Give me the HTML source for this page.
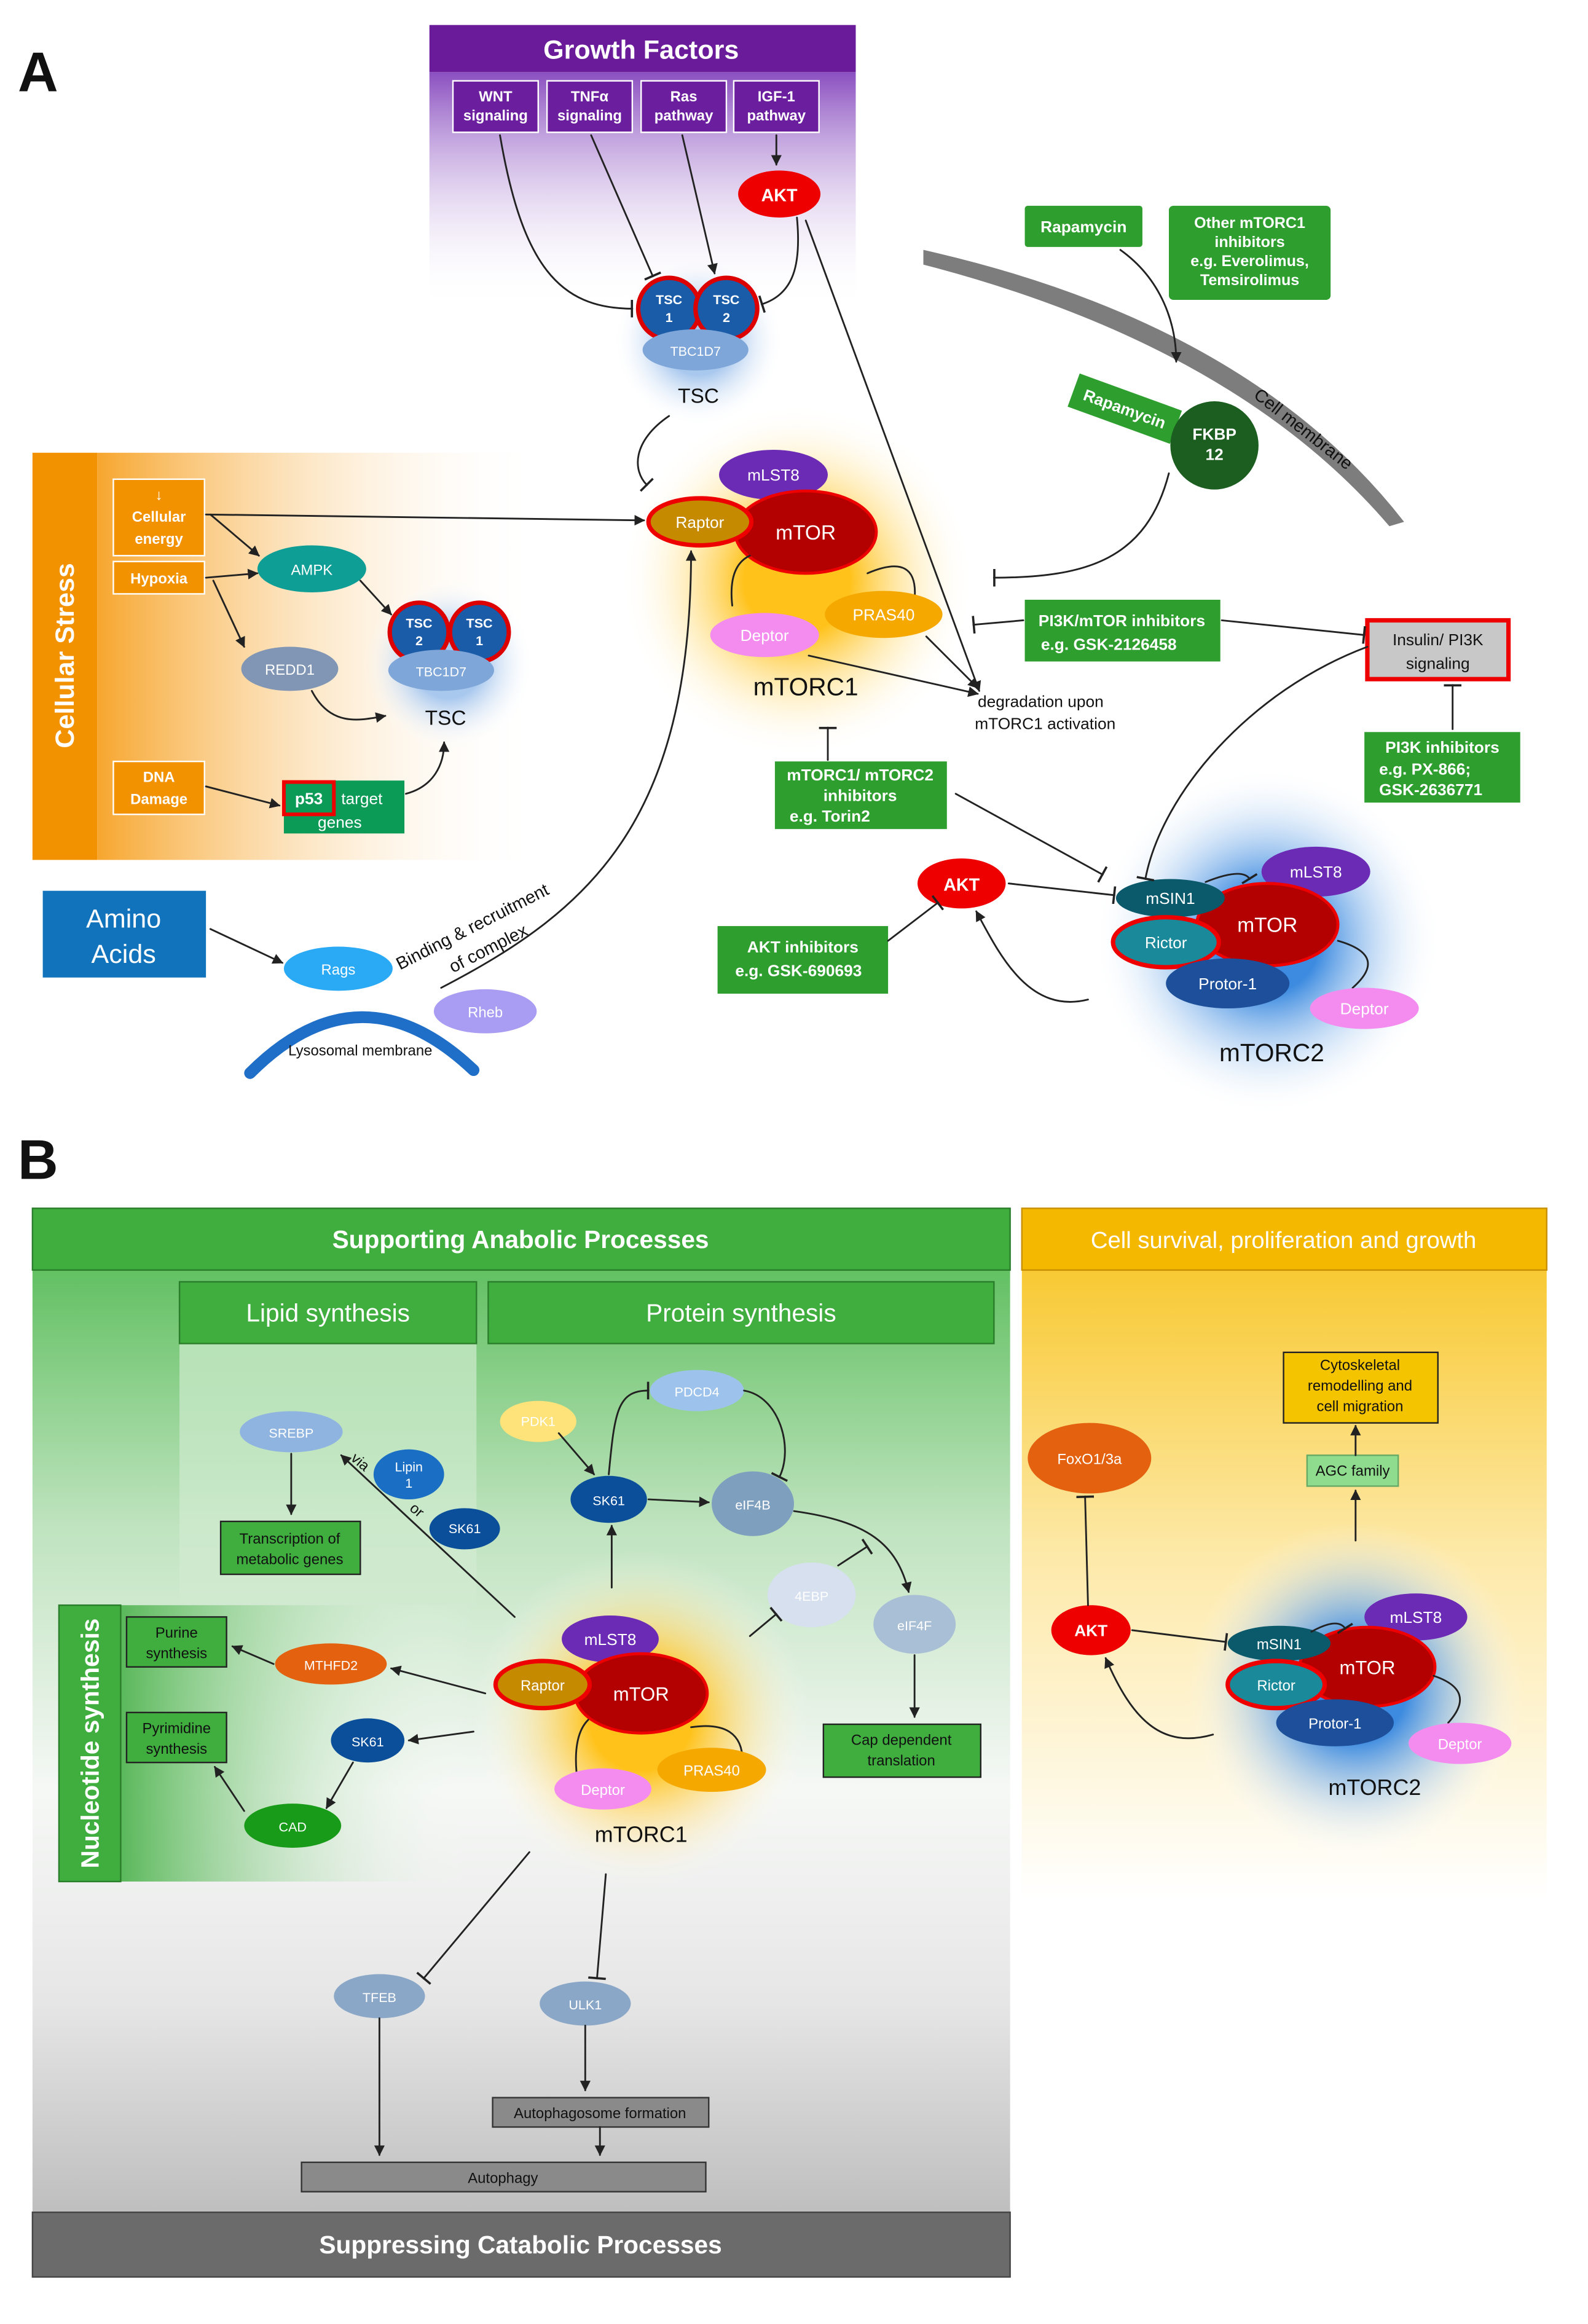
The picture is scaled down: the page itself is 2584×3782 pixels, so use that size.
<!DOCTYPE html>
<html><head><meta charset="utf-8"><style>
html,body{margin:0;padding:0;background:#fff}
svg{display:block}
text{font-family:"Liberation Sans",sans-serif}
.w{fill:#fff;font-weight:bold}
.b{fill:#111}
</style></head><body>
<svg width="2584" height="3782" viewBox="0 0 1080 1581" xmlns="http://www.w3.org/2000/svg">
<defs>
<marker id="ar" viewBox="0 0 10 10" refX="9" refY="5" markerWidth="6" markerHeight="6" orient="auto"><path d="M0,0L10,5L0,10z" fill="#222"/></marker>
<marker id="in" viewBox="0 0 4 12" refX="2" refY="6" markerWidth="4" markerHeight="12" markerUnits="userSpaceOnUse" orient="auto"><rect x="1" y="0" width="1.5" height="12" fill="#222"/></marker>
<linearGradient id="pg" x1="0" y1="0" x2="0" y2="1"><stop offset="0" stop-color="#8a4fc0"/><stop offset="1" stop-color="#fff" stop-opacity="0"/></linearGradient>
<linearGradient id="og" x1="0" y1="0" x2="1" y2="0"><stop offset="0" stop-color="#f7a62e"/><stop offset="1" stop-color="#fff" stop-opacity="0"/></linearGradient>
<linearGradient id="gg" x1="0" y1="0" x2="0" y2="1"><stop offset="0" stop-color="#4cb84c"/><stop offset="0.3" stop-color="#bfe3bf"/><stop offset="0.55" stop-color="#f6f8f6"/><stop offset="0.75" stop-color="#e6e6e6"/><stop offset="1" stop-color="#b4b4b4"/></linearGradient>
<linearGradient id="lg" x1="0" y1="0" x2="0" y2="1"><stop offset="0" stop-color="#b8e2b8"/><stop offset="1" stop-color="#fff" stop-opacity="0"/></linearGradient>
<linearGradient id="ng" x1="0" y1="0" x2="1" y2="0"><stop offset="0" stop-color="#5ab85a"/><stop offset="1" stop-color="#fff" stop-opacity="0"/></linearGradient>
<linearGradient id="yg" x1="0" y1="0" x2="0" y2="1"><stop offset="0" stop-color="#f7c21a"/><stop offset="0.5" stop-color="#fde9a8"/><stop offset="1" stop-color="#fff"/></linearGradient>
<radialGradient id="yc"><stop offset="0.3" stop-color="#ffc21a"/><stop offset="1" stop-color="#fff" stop-opacity="0"/></radialGradient>
<radialGradient id="bc"><stop offset="0.3" stop-color="#3d8be0"/><stop offset="1" stop-color="#fff" stop-opacity="0"/></radialGradient>
<radialGradient id="tc"><stop offset="0.4" stop-color="#a9c8ee"/><stop offset="1" stop-color="#fff" stop-opacity="0"/></radialGradient>
</defs>
<g stroke-linecap="round">
<text x="12" y="62" font-size="38" font-weight="bold" class="b">A</text>
<rect x="292" y="49" width="290" height="160" fill="url(#pg)"/>
<rect x="292" y="17" width="290" height="32" fill="#6a1b9a"/>
<text x="436" y="40" text-anchor="middle" font-size="18" class="w">Growth Factors</text>
<g font-size="10" class="w" text-anchor="middle">
<rect x="308" y="55" width="58" height="35" fill="#6b1f9e" stroke="#fff"/><text x="337" y="69">WNT</text><text x="337" y="82">signaling</text>
<rect x="372" y="55" width="58" height="35" fill="#6b1f9e" stroke="#fff"/><text x="401" y="69">TNFα</text><text x="401" y="82">signaling</text>
<rect x="436" y="55" width="58" height="35" fill="#6b1f9e" stroke="#fff"/><text x="465" y="69">Ras</text><text x="465" y="82">pathway</text>
<rect x="499" y="55" width="58" height="35" fill="#6b1f9e" stroke="#fff"/><text x="528" y="69">IGF-1</text><text x="528" y="82">pathway</text>
</g>
<ellipse cx="530" cy="132" rx="28" ry="16" fill="#e00"/><text x="530" y="137" text-anchor="middle" font-size="12" class="w">AKT</text>
<circle cx="475" cy="232" r="58" fill="url(#tc)"/>
<circle cx="455" cy="210" r="21" fill="#1a5ca8" stroke="#d00" stroke-width="3"/>
<circle cx="494" cy="210" r="21" fill="#1a5ca8" stroke="#d00" stroke-width="3"/>
<text x="455" y="207" text-anchor="middle" font-size="9" class="w">TSC</text><text x="455" y="219" text-anchor="middle" font-size="9" class="w">1</text>
<text x="494" y="207" text-anchor="middle" font-size="9" class="w">TSC</text><text x="494" y="219" text-anchor="middle" font-size="9" class="w">2</text>
<ellipse cx="473" cy="238" rx="36" ry="14" fill="#7ea6d8"/><text x="473" y="242" text-anchor="middle" font-size="9" fill="#fff">TBC1D7</text>
<text x="475" y="274" text-anchor="middle" font-size="14" class="b">TSC</text>
<path d="M628,170 Q850,220 955,355 L945,358 Q840,235 628,180z" fill="#7d7d7d"/>
<text x="852" y="270" font-size="12" class="b" transform="rotate(38 852 270)">Cell membrane</text>
<rect x="697" y="140" width="80" height="28" fill="#2e9e2e" rx="2"/><text x="737" y="158" text-anchor="middle" font-size="11" class="w">Rapamycin</text>
<rect x="795" y="140" width="110" height="64" fill="#2e9e2e" rx="3"/>
<g font-size="10.5" class="w" text-anchor="middle"><text x="850" y="155">Other mTORC1</text><text x="850" y="168">inhibitors</text><text x="850" y="181">e.g. Everolimus,</text><text x="850" y="194">Temsirolimus</text></g>
<g transform="rotate(20 765 278)"><rect x="728" y="266" width="74" height="24" fill="#2e9e2e"/><text x="765" y="282" text-anchor="middle" font-size="11" class="w">Rapamycin</text></g>
<circle cx="826" cy="303" r="30" fill="#1b5e20"/><text x="826" y="299" text-anchor="middle" font-size="11" class="w">FKBP</text><text x="826" y="313" text-anchor="middle" font-size="11" class="w">12</text>
<rect x="66" y="308" width="300" height="277" fill="url(#og)"/>
<rect x="22" y="308" width="44" height="277" fill="#f39200"/>
<text transform="translate(50 446) rotate(-90)" text-anchor="middle" font-size="18" class="w">Cellular Stress</text>
<g font-size="10" class="w" text-anchor="middle">
<rect x="77" y="326" width="62" height="52" fill="#f39200" stroke="#fff"/><text x="108" y="340">↓</text><text x="108" y="355">Cellular</text><text x="108" y="370">energy</text>
<rect x="77" y="382" width="62" height="22" fill="#f39200" stroke="#fff"/><text x="108" y="397">Hypoxia</text>
<rect x="77" y="518" width="62" height="36" fill="#f39200" stroke="#fff"/><text x="108" y="532">DNA</text><text x="108" y="547">Damage</text>
</g>
<ellipse cx="212" cy="387" rx="37" ry="16" fill="#0f9e96"/><text x="212" y="391" text-anchor="middle" font-size="10" fill="#fff">AMPK</text>
<ellipse cx="197" cy="455" rx="33" ry="15" fill="#8096b4"/><text x="197" y="459" text-anchor="middle" font-size="10" fill="#fff">REDD1</text>
<circle cx="305" cy="452" r="58" fill="url(#tc)"/>
<circle cx="285" cy="430" r="20" fill="#1a5ca8" stroke="#d00" stroke-width="3"/>
<circle cx="326" cy="430" r="20" fill="#1a5ca8" stroke="#d00" stroke-width="3"/>
<text x="285" y="427" text-anchor="middle" font-size="9" class="w">TSC</text><text x="285" y="439" text-anchor="middle" font-size="9" class="w">2</text>
<text x="326" y="427" text-anchor="middle" font-size="9" class="w">TSC</text><text x="326" y="439" text-anchor="middle" font-size="9" class="w">1</text>
<ellipse cx="300" cy="456" rx="36" ry="14" fill="#7ea6d8"/><text x="300" y="460" text-anchor="middle" font-size="9" fill="#fff">TBC1D7</text>
<text x="303" y="493" text-anchor="middle" font-size="14" class="b">TSC</text>
<rect x="193" y="531" width="82" height="36" fill="#0c9b57"/>
<rect x="193" y="532" width="34" height="22" fill="#0c9b57" stroke="#e00" stroke-width="2.5"/>
<text x="210" y="547" text-anchor="middle" font-size="11" class="w">p53</text><text x="232" y="547" font-size="11" fill="#fff">target</text><text x="216" y="563" font-size="11" fill="#fff">genes</text>
<rect x="29" y="606" width="111" height="59" fill="#1273bd"/>
<text x="84" y="631" text-anchor="middle" font-size="18" fill="#fff">Amino</text><text x="84" y="655" text-anchor="middle" font-size="18" fill="#fff">Acids</text>
<ellipse cx="230" cy="659" rx="37" ry="15" fill="#2aa9f5"/><text x="230" y="663" text-anchor="middle" font-size="10" fill="#fff">Rags</text>
<ellipse cx="330" cy="688" rx="35" ry="15" fill="#a99cf3"/><text x="330" y="692" text-anchor="middle" font-size="10" fill="#fff">Rheb</text>
<path d="M170,730 Q245,655 322,728" fill="none" stroke="#1f6fc8" stroke-width="8"/>
<text x="245" y="718" text-anchor="middle" font-size="10" class="b">Lysosomal membrane</text>
<text transform="translate(272 660) rotate(-27)" font-size="12" class="b">Binding &amp; recruitment</text>
<text transform="translate(308 662) rotate(-27)" font-size="12" class="b">of complex</text>
<circle cx="542" cy="395" r="120" fill="url(#yc)"/>
<ellipse cx="526" cy="323" rx="37" ry="17" fill="#6c2bb5"/><text x="526" y="327" text-anchor="middle" font-size="11" fill="#fff">mLST8</text>
<ellipse cx="548" cy="362" rx="48" ry="28" fill="#b30000" stroke="#e00" stroke-width="2"/><text x="548" y="367" text-anchor="middle" font-size="14" fill="#fff">mTOR</text>
<ellipse cx="476" cy="355" rx="35" ry="16" fill="#c58a00" stroke="#e00" stroke-width="3"/><text x="476" y="359" text-anchor="middle" font-size="11" fill="#fff">Raptor</text>
<path d="M498,412 Q495,385 510,378 M590,390 Q625,375 622,408" fill="none" stroke="#222" stroke-width="1.2"/>
<ellipse cx="520" cy="432" rx="37" ry="15" fill="#f48cf0"/><text x="520" y="436" text-anchor="middle" font-size="11" fill="#fff">Deptor</text>
<ellipse cx="601" cy="418" rx="40" ry="16" fill="#f5a800"/><text x="601" y="422" text-anchor="middle" font-size="11" fill="#fff">PRAS40</text>
<text x="548" y="473" text-anchor="middle" font-size="17" class="b">mTORC1</text>
<text x="665" y="481" font-size="11" class="b">degradation upon</text><text x="663" y="496" font-size="11" class="b">mTORC1 activation</text>
<rect x="697" y="408" width="133" height="42" fill="#2e9e2e"/><text x="763" y="426" text-anchor="middle" font-size="11" class="w">PI3K/mTOR inhibitors</text><text x="708" y="442" font-size="11" class="w">e.g. GSK-2126458</text>
<rect x="930" y="422" width="96" height="40" fill="#c8c8c8" stroke="#e00" stroke-width="3"/><text x="978" y="439" text-anchor="middle" font-size="11" class="b">Insulin/ PI3K</text><text x="978" y="455" text-anchor="middle" font-size="11" class="b">signaling</text>
<rect x="928" y="498" width="106" height="48" fill="#2e9e2e"/><text x="981" y="512" text-anchor="middle" font-size="11" class="w">PI3K inhibitors</text><text x="938" y="527" font-size="11" class="w">e.g. PX-866;</text><text x="938" y="541" font-size="11" class="w">GSK-2636771</text>
<rect x="527" y="518" width="117" height="46" fill="#2e9e2e"/><text x="585" y="531" text-anchor="middle" font-size="11" class="w">mTORC1/ mTORC2</text><text x="585" y="545" text-anchor="middle" font-size="11" class="w">inhibitors</text><text x="537" y="559" font-size="11" class="w">e.g. Torin2</text>
<rect x="488" y="630" width="116" height="46" fill="#2e9e2e"/><text x="546" y="648" text-anchor="middle" font-size="11" class="w">AKT inhibitors</text><text x="500" y="664" font-size="11" class="w">e.g. GSK-690693</text>
<ellipse cx="654" cy="601" rx="30" ry="17" fill="#e00"/><text x="654" y="606" text-anchor="middle" font-size="12" class="w">AKT</text>
<circle cx="862" cy="640" r="118" fill="url(#bc)"/>
<ellipse cx="895" cy="593" rx="37" ry="17" fill="#6c2bb5"/><text x="895" y="597" text-anchor="middle" font-size="11" fill="#fff">mLST8</text>
<ellipse cx="862" cy="629" rx="48" ry="28" fill="#b30000" stroke="#e00" stroke-width="2"/><text x="862" y="634" text-anchor="middle" font-size="14" fill="#fff">mTOR</text>
<ellipse cx="796" cy="611" rx="37" ry="13" fill="#0b5a6b"/><text x="796" y="615" text-anchor="middle" font-size="11" fill="#fff">mSIN1</text>
<ellipse cx="793" cy="641" rx="36" ry="17" fill="#1a8a9a" stroke="#e00" stroke-width="3"/><text x="793" y="645" text-anchor="middle" font-size="11" fill="#fff">Rictor</text>
<ellipse cx="835" cy="669" rx="42" ry="17" fill="#1d4f9a"/><text x="835" y="673" text-anchor="middle" font-size="11" fill="#fff">Protor-1</text>
<path d="M920,672 Q945,650 910,640" fill="none" stroke="#222" stroke-width="1.2"/>
<ellipse cx="928" cy="686" rx="37" ry="14" fill="#f48cf0"/><text x="928" y="690" text-anchor="middle" font-size="11" fill="#fff">Deptor</text>
<text x="865" y="722" text-anchor="middle" font-size="17" class="b">mTORC2</text>
<g fill="none" stroke="#222" stroke-width="1.2">
<path d="M340,92 C355,180 380,210 430,210" marker-end="url(#in)"/>
<path d="M402,92 L444,188" marker-end="url(#in)"/>
<path d="M464,92 L486,186" marker-end="url(#ar)"/>
<path d="M528,92 L528,112" marker-end="url(#ar)"/>
<path d="M542,148 C545,180 540,200 518,207" marker-end="url(#in)"/>
<path d="M548,150 L666,470" marker-end="url(#ar)"/>
<path d="M455,283 C430,300 430,320 440,330" marker-end="url(#in)"/>
<path d="M140,350 L438,354" marker-end="url(#ar)"/>
<path d="M143,350 L176,378" marker-end="url(#ar)"/>
<path d="M140,393 L175,390" marker-end="url(#ar)"/>
<path d="M145,395 L166,440" marker-end="url(#ar)"/>
<path d="M245,395 L266,418" marker-end="url(#ar)"/>
<path d="M212,470 C225,495 245,490 262,487" marker-end="url(#ar)"/>
<path d="M140,535 L190,548" marker-end="url(#ar)"/>
<path d="M276,540 C295,535 302,520 302,505" marker-end="url(#ar)"/>
<path d="M143,632 L192,655" marker-end="url(#ar)"/>
<path d="M300,672 C400,620 470,560 470,375" marker-end="url(#ar)"/>
<path d="M762,170 C790,190 800,220 800,246" marker-end="url(#ar)"/>
<path d="M795,322 C780,380 740,393 676,393" marker-end="url(#in)"/>
<path d="M696,422 L662,425" marker-end="url(#in)"/>
<path d="M831,422 L928,432" marker-end="url(#in)"/>
<path d="M988,496 L988,466" marker-end="url(#in)"/>
<path d="M930,440 C850,470 790,540 779,598" marker-end="url(#in)"/>
<path d="M563,517 L563,495" marker-end="url(#in)"/>
<path d="M650,540 L750,595" marker-end="url(#in)"/>
<path d="M604,640 L638,614" marker-end="url(#in)"/>
<path d="M686,601 L758,609" marker-end="url(#in)"/>
<path d="M740,680 C700,690 680,650 664,620" marker-end="url(#ar)"/>
<path d="M630,433 L665,468" marker-end="url(#ar)"/>
<path d="M550,446 L665,472" marker-end="url(#ar)"/>
<path d="M820,600 Q845,590 850,598" marker-end="url(#in)"/>
</g>
<text x="12" y="802" font-size="38" font-weight="bold" class="b">B</text>
<rect x="22" y="822" width="665" height="720" fill="url(#gg)"/>
<rect x="122" y="914" width="202" height="180" fill="url(#lg)"/>
<rect x="82" y="1092" width="240" height="188" fill="url(#ng)"/>
<rect x="22" y="822" width="665" height="42" fill="#3fae3f" stroke="#2a7d2a"/>
<text x="354" y="849" text-anchor="middle" font-size="17" class="w">Supporting Anabolic Processes</text>
<rect x="122" y="872" width="202" height="42" fill="#3fae3f" stroke="#2a7d2a"/><text x="223" y="899" text-anchor="middle" font-size="17" fill="#fff">Lipid synthesis</text>
<rect x="332" y="872" width="344" height="42" fill="#3fae3f" stroke="#2a7d2a"/><text x="504" y="899" text-anchor="middle" font-size="17" fill="#fff">Protein synthesis</text>
<rect x="22" y="1505" width="665" height="44" fill="#6b6b6b" stroke="#444"/><text x="354" y="1533" text-anchor="middle" font-size="17" class="w">Suppressing Catabolic Processes</text>
<rect x="40" y="1092" width="42" height="188" fill="#3fae3f" stroke="#2a7d2a"/>
<text transform="translate(67 1186) rotate(-90)" text-anchor="middle" font-size="17" class="w">Nucleotide synthesis</text>
<rect x="695" y="822" width="357" height="470" fill="url(#yg)"/>
<rect x="695" y="822" width="357" height="42" fill="#f5b800" stroke="#c89000"/>
<text x="873" y="849" text-anchor="middle" font-size="16" fill="#fff">Cell survival, proliferation and growth</text>
<ellipse cx="198" cy="974" rx="35" ry="14" fill="#8fb4e0"/><text x="198" y="978" text-anchor="middle" font-size="9" fill="#fff">SREBP</text>
<ellipse cx="278" cy="1003" rx="24" ry="17" fill="#1a6fc4"/><text x="278" y="1001" text-anchor="middle" font-size="9" fill="#fff">Lipin</text><text x="278" y="1012" text-anchor="middle" font-size="9" fill="#fff">1</text>
<ellipse cx="316" cy="1040" rx="24" ry="14" fill="#0b4f9a"/><text x="316" y="1043" text-anchor="middle" font-size="9" fill="#fff">SK61</text>
<rect x="150" y="1035" width="95" height="36" fill="#3fae3f" stroke="#222"/><text x="197" y="1050" text-anchor="middle" font-size="10" class="b">Transcription of</text><text x="197" y="1064" text-anchor="middle" font-size="10" class="b">metabolic genes</text>
<text transform="translate(238 993) rotate(40)" font-size="10" class="b">via</text>
<text transform="translate(278 1027) rotate(40)" font-size="10" class="b">or</text>
<ellipse cx="366" cy="967" rx="26" ry="14" fill="#fde37a"/><text x="366" y="970" text-anchor="middle" font-size="9" fill="#fff">PDK1</text>
<ellipse cx="474" cy="946" rx="32" ry="14" fill="#9dc3ec"/><text x="474" y="950" text-anchor="middle" font-size="9" fill="#fff">PDCD4</text>
<ellipse cx="414" cy="1020" rx="26" ry="16" fill="#0b4f9a"/><text x="414" y="1024" text-anchor="middle" font-size="9" fill="#fff">SK61</text>
<ellipse cx="512" cy="1023" rx="28" ry="22" fill="#7f9fbf"/><text x="512" y="1027" text-anchor="middle" font-size="9" fill="#fff">eIF4B</text>
<ellipse cx="552" cy="1085" rx="30" ry="22" fill="#d6e0ef"/><text x="552" y="1089" text-anchor="middle" font-size="9" fill="#fff">4EBP</text>
<ellipse cx="622" cy="1105" rx="28" ry="20" fill="#a9bfd6"/><text x="622" y="1109" text-anchor="middle" font-size="9" fill="#fff">eIF4F</text>
<rect x="560" y="1173" width="107" height="36" fill="#3fae3f" stroke="#222"/><text x="613" y="1187" text-anchor="middle" font-size="10" class="b">Cap dependent</text><text x="613" y="1201" text-anchor="middle" font-size="10" class="b">translation</text>
<rect x="86" y="1100" width="68" height="34" fill="#3fae3f" stroke="#222"/><text x="120" y="1114" text-anchor="middle" font-size="10" class="b">Purine</text><text x="120" y="1128" text-anchor="middle" font-size="10" class="b">synthesis</text>
<rect x="86" y="1165" width="68" height="34" fill="#3fae3f" stroke="#222"/><text x="120" y="1179" text-anchor="middle" font-size="10" class="b">Pyrimidine</text><text x="120" y="1193" text-anchor="middle" font-size="10" class="b">synthesis</text>
<ellipse cx="225" cy="1132" rx="38" ry="14" fill="#e3610f"/><text x="225" y="1136" text-anchor="middle" font-size="9" fill="#fff">MTHFD2</text>
<ellipse cx="250" cy="1184" rx="25" ry="15" fill="#0b4f9a"/><text x="250" y="1188" text-anchor="middle" font-size="9" fill="#fff">SK61</text>
<ellipse cx="199" cy="1242" rx="33" ry="15" fill="#189b18"/><text x="199" y="1246" text-anchor="middle" font-size="9" fill="#fff">CAD</text>
<circle cx="436" cy="1170" r="115" fill="url(#yc)"/>
<ellipse cx="415" cy="1115" rx="33" ry="16" fill="#6c2bb5"/><text x="415" y="1119" text-anchor="middle" font-size="11" fill="#fff">mLST8</text>
<ellipse cx="436" cy="1152" rx="45" ry="27" fill="#b30000" stroke="#e00" stroke-width="2"/><text x="436" y="1157" text-anchor="middle" font-size="13" fill="#fff">mTOR</text>
<ellipse cx="369" cy="1146" rx="32" ry="16" fill="#c58a00" stroke="#e00" stroke-width="3"/><text x="369" y="1150" text-anchor="middle" font-size="10" fill="#fff">Raptor</text>
<path d="M392,1205 Q390,1180 400,1170 M470,1175 Q505,1170 505,1198" fill="none" stroke="#222" stroke-width="1.2"/>
<ellipse cx="410" cy="1217" rx="33" ry="14" fill="#f48cf0"/><text x="410" y="1221" text-anchor="middle" font-size="10" fill="#fff">Deptor</text>
<ellipse cx="484" cy="1204" rx="37" ry="15" fill="#f5a800"/><text x="484" y="1208" text-anchor="middle" font-size="10" fill="#fff">PRAS40</text>
<text x="436" y="1253" text-anchor="middle" font-size="15" class="b">mTORC1</text>
<ellipse cx="258" cy="1358" rx="31" ry="15" fill="#8ba7c7"/><text x="258" y="1362" text-anchor="middle" font-size="9" fill="#fff">TFEB</text>
<ellipse cx="398" cy="1363" rx="31" ry="15" fill="#8ba7c7"/><text x="398" y="1367" text-anchor="middle" font-size="9" fill="#fff">ULK1</text>
<rect x="335" y="1427" width="147" height="20" fill="#8a8a8a" stroke="#333"/><text x="408" y="1441" text-anchor="middle" font-size="10" class="b">Autophagosome formation</text>
<rect x="205" y="1471" width="275" height="20" fill="#8a8a8a" stroke="#333"/><text x="342" y="1485" text-anchor="middle" font-size="10" class="b">Autophagy</text>
<ellipse cx="741" cy="992" rx="42" ry="24" fill="#e3610f"/><text x="741" y="996" text-anchor="middle" font-size="10" fill="#fff">FoxO1/3a</text>
<rect x="873" y="920" width="105" height="48" fill="#f5c400" stroke="#222"/><text x="925" y="932" text-anchor="middle" font-size="10" class="b">Cytoskeletal</text><text x="925" y="946" text-anchor="middle" font-size="10" class="b">remodelling and</text><text x="925" y="960" text-anchor="middle" font-size="10" class="b">cell migration</text>
<rect x="889" y="990" width="62" height="21" fill="#8fdc8f" stroke="#6a6"/><text x="920" y="1004" text-anchor="middle" font-size="10" class="b">AGC family</text>
<ellipse cx="742" cy="1109" rx="27" ry="17" fill="#e00"/><text x="742" y="1113" text-anchor="middle" font-size="11" class="w">AKT</text>
<circle cx="922" cy="1150" r="115" fill="url(#bc)"/>
<ellipse cx="963" cy="1100" rx="35" ry="16" fill="#6c2bb5"/><text x="963" y="1104" text-anchor="middle" font-size="11" fill="#fff">mLST8</text>
<ellipse cx="930" cy="1134" rx="46" ry="27" fill="#b30000" stroke="#e00" stroke-width="2"/><text x="930" y="1139" text-anchor="middle" font-size="13" fill="#fff">mTOR</text>
<ellipse cx="870" cy="1118" rx="35" ry="12" fill="#0b5a6b"/><text x="870" y="1122" text-anchor="middle" font-size="10" fill="#fff">mSIN1</text>
<ellipse cx="868" cy="1146" rx="33" ry="16" fill="#1a8a9a" stroke="#e00" stroke-width="3"/><text x="868" y="1150" text-anchor="middle" font-size="10" fill="#fff">Rictor</text>
<ellipse cx="908" cy="1172" rx="40" ry="16" fill="#1d4f9a"/><text x="908" y="1176" text-anchor="middle" font-size="10" fill="#fff">Protor-1</text>
<path d="M985,1172 Q1005,1150 975,1140" fill="none" stroke="#222" stroke-width="1.2"/>
<ellipse cx="993" cy="1186" rx="35" ry="14" fill="#f48cf0"/><text x="993" y="1190" text-anchor="middle" font-size="10" fill="#fff">Deptor</text>
<text x="935" y="1221" text-anchor="middle" font-size="15" class="b">mTORC2</text>
<g fill="none" stroke="#222" stroke-width="1.2">
<path d="M198,989 L198,1030" marker-end="url(#ar)"/>
<path d="M350,1100 L232,990" marker-end="url(#ar)"/>
<path d="M380,975 L404,1003" marker-end="url(#ar)"/>
<path d="M441,1020 L482,1022" marker-end="url(#ar)"/>
<path d="M414,1003 C418,960 420,946 441,946" marker-end="url(#in)"/>
<path d="M506,946 C530,950 540,985 530,1005" marker-end="url(#in)"/>
<path d="M416,1080 L416,1038" marker-end="url(#ar)"/>
<path d="M510,1113 L528,1098" marker-end="url(#in)"/>
<path d="M540,1028 C590,1035 610,1050 618,1083" marker-end="url(#ar)"/>
<path d="M570,1065 L590,1052" marker-end="url(#in)"/>
<path d="M622,1126 L622,1168" marker-end="url(#ar)"/>
<path d="M330,1152 L266,1135" marker-end="url(#ar)"/>
<path d="M186,1132 L158,1120" marker-end="url(#ar)"/>
<path d="M322,1178 L278,1184" marker-end="url(#ar)"/>
<path d="M240,1199 L222,1230" marker-end="url(#ar)"/>
<path d="M166,1232 L146,1202" marker-end="url(#ar)"/>
<path d="M360,1260 L288,1346" marker-end="url(#in)"/>
<path d="M412,1275 L406,1346" marker-end="url(#in)"/>
<path d="M258,1373 L258,1466" marker-end="url(#ar)"/>
<path d="M398,1378 L398,1422" marker-end="url(#ar)"/>
<path d="M408,1447 L408,1466" marker-end="url(#ar)"/>
<path d="M740,1092 L738,1018" marker-end="url(#in)"/>
<path d="M770,1109 L834,1117" marker-end="url(#in)"/>
<path d="M825,1180 C790,1190 770,1170 752,1128" marker-end="url(#ar)"/>
<path d="M922,1048 L922,1014" marker-end="url(#ar)"/>
<path d="M922,990 L922,970" marker-end="url(#ar)"/>
<path d="M892,1110 Q910,1100 915,1108" marker-end="url(#in)"/>
</g>
</g>
</svg>
</body></html>
